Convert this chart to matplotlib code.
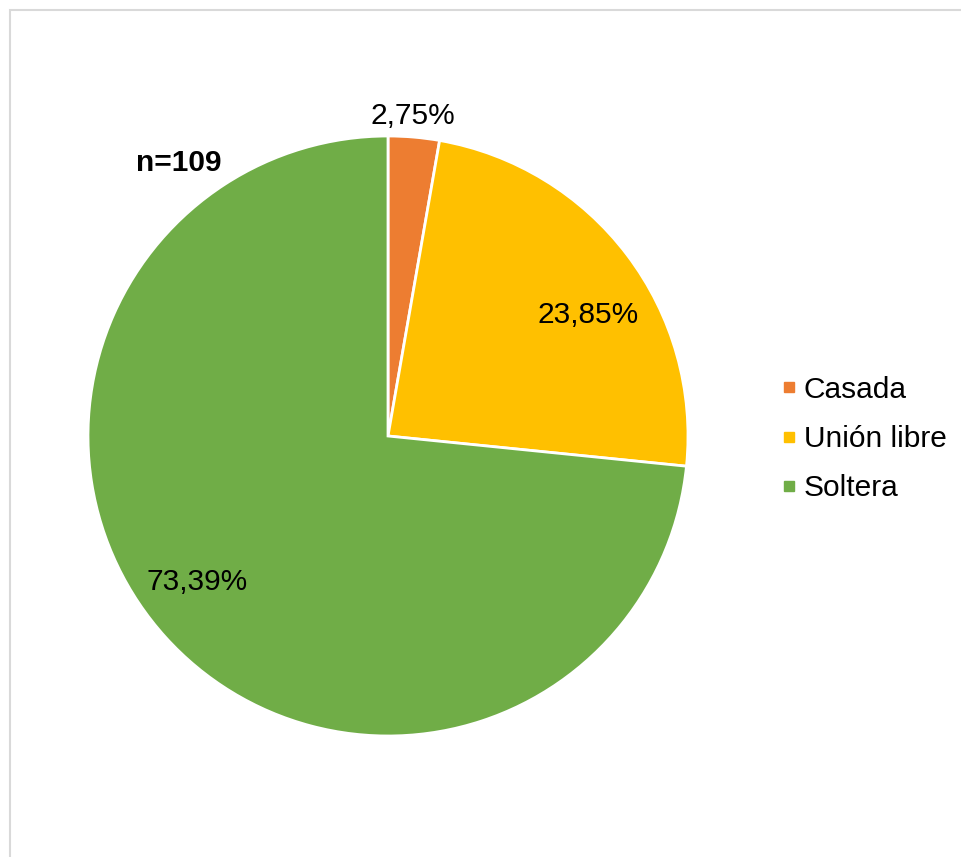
import numpy as np
import matplotlib
matplotlib.use('Agg')
import matplotlib.pyplot as plt
from matplotlib.lines import Line2D
from matplotlib.patches import Rectangle

plt.rcParams['font.family'] = ['Liberation Sans', 'DejaVu Sans']

# estado civil, n=109
categorias = ['Casada', 'Unión libre', 'Soltera']
conteos = [3, 26, 80]
colores = ['#ED7D31', '#FFC000', '#70AD47']

total = sum(conteos)
porcentajes = [100.0 * c / total for c in conteos]

W, H = 961, 857
fig = plt.figure(figsize=(W / 100, H / 100), dpi=100)

# borde gris del area del grafico
fig.patches.append(Rectangle((9.5 / W, -0.1), 1.2, 1.1 - 9.5 / H, transform=fig.transFigure,
                             fill=False, edgecolor='#D9D9D9', linewidth=1.5))

cx, cy, r = 388, 436, 300
ax = fig.add_axes([(cx - r) / W, (H - cy - r) / H, 2 * r / W, 2 * r / H])
wedges, _ = ax.pie(conteos, colors=colores, startangle=90, counterclock=False,
                   radius=1, wedgeprops=dict(edgecolor='white', linewidth=2))
ax.set_xlim(-1, 1)
ax.set_ylim(-1, 1)
ax.axis('off')

# etiquetas de porcentaje
dist = [1.07, 0.78, 0.80]
ajuste = [0.5, -6.0, -4.6]
for w, p, d, a in zip(wedges, porcentajes, dist, ajuste):
    ang = np.deg2rad((w.theta1 + w.theta2) / 2 + a)
    txt = f'{p:.2f}%'.replace('.', ',')
    ax.text(d * np.cos(ang), d * np.sin(ang), txt, ha='center', va='center',
            fontsize=21.5, color='black', clip_on=False)

fig.text(179 / W, 1 - 163 / H, f'n={total}', ha='center', va='center',
         fontsize=21.5, fontweight='bold')

handles = [Line2D([], [], marker='s', linestyle='none', markersize=7,
                  markerfacecolor=c, markeredgecolor=c) for c in colores]
fig.legend(handles, categorias, loc='center left', bbox_to_anchor=(765 / W, 1 - 439 / H),
           frameon=False, fontsize=21.5, handlelength=0.6, handletextpad=0.2,
           labelspacing=0.72, borderpad=0)

fig.savefig('out.png', dpi=100)
